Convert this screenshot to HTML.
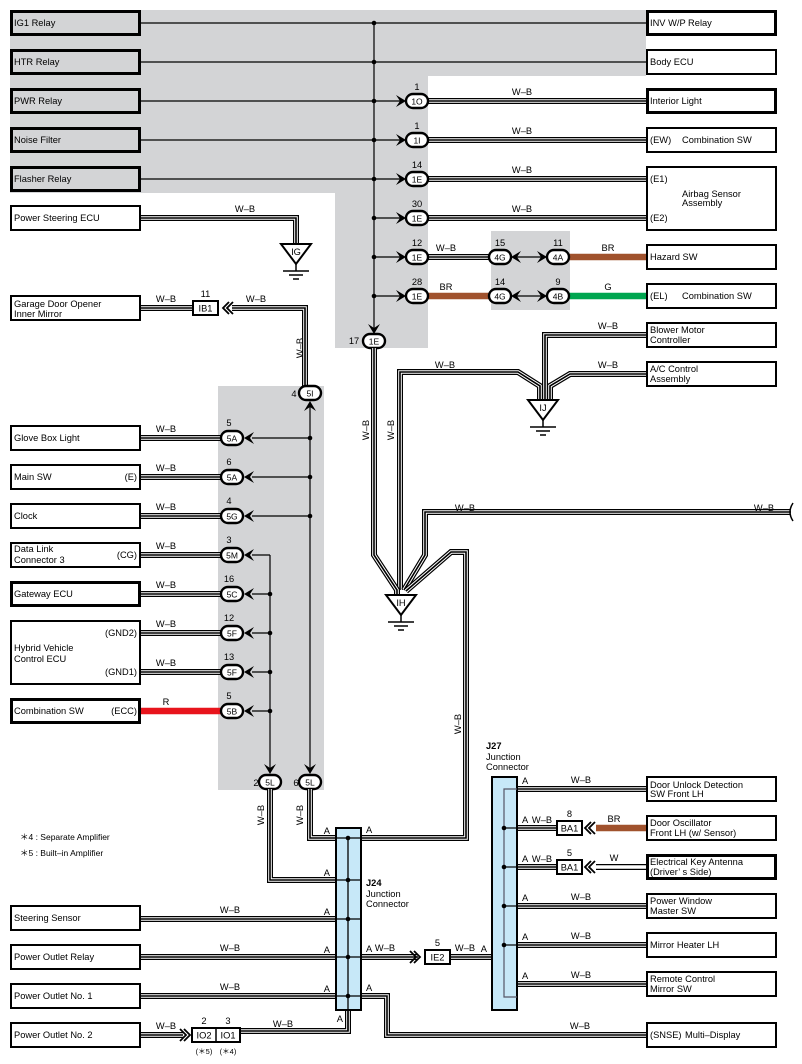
<!DOCTYPE html>
<html><head><meta charset="utf-8"><style>
html,body{margin:0;padding:0;background:#fff}
svg{display:block;font-family:"Liberation Sans",sans-serif}
text{font-size:9.3px;fill:#000}
</style></head><body>
<svg id="s" width="802" height="1064" viewBox="0 0 802 1064" xmlns="http://www.w3.org/2000/svg">
<rect x="10" y="10" width="636" height="66" fill="#d3d4d6"/>
<rect x="10" y="10" width="418" height="183" fill="#d3d4d6"/>
<rect x="335" y="10" width="93" height="338" fill="#d3d4d6"/>
<rect x="491" y="231" width="79" height="79" fill="#d3d4d6"/>
<rect x="218" y="386" width="106" height="404" fill="#d3d4d6"/>
</svg>
<script>
const S=document.getElementById('s'),NS='http://www.w3.org/2000/svg';
function el(t,a,txt){const e=document.createElementNS(NS,t);for(const k in a)e.setAttribute(k,a[k]);if(txt!==undefined)e.textContent=txt;S.appendChild(e);return e;}
function ln(x1,y1,x2,y2,w,c){el('line',{x1,y1,x2,y2,stroke:c||'#000','stroke-width':w||1.2});}
function pl(p,w,c){el('polyline',{points:p.map(q=>q.join(',')).join(' '),fill:'none',stroke:c,'stroke-width':w,'stroke-linejoin':'miter'});}
function wire(p,t){t=t||'wb';
 if(t=='wb'){pl(p,6,'#000');pl(p,3.6,'#fff');pl(p,1.6,'#000');}
 else if(t=='w'){pl(p,6,'#000');pl(p,3.6,'#fff');}
 else pl(p,6.5,t);}
function tx(x,y,s,o){o=o||{};const a={x,y};if(o.a)a['text-anchor']=o.a;if(o.r)a.transform='rotate(-90 '+x+' '+y+')';if(o.b)a['font-weight']='bold';if(o.s)a.style='font-size:'+o.s+'px';el('text',a,s);}
function box(y1,y2,thick,x1,x2,lines){x1=x1||10;x2=x2||141;const w=thick?3:2;
 el('rect',{x:x1+w/2,y:y1+w/2,width:x2-x1-w,height:y2-y1-w,fill:thick&&x1<200&&y1<200?'#d3d4d6':'#fff',stroke:'#000','stroke-width':w});
 (lines||[]).forEach(l=>tx(l[0],l[1],l[2],l[3]));}
function pill(cx,cy,lab,num,nx,ny){el('rect',{x:cx-11,y:cy-7,width:22,height:14,rx:7,fill:'#fff',stroke:'#000','stroke-width':2.4});tx(cx,cy+3.5,lab,{a:'middle',s:8.5});if(num!==undefined)tx(nx!==undefined?nx:cx,ny!==undefined?ny:cy-11,num,{a:'middle'});}
function arR(x,y){el('path',{d:`M${x-10},${y-6}L${x},${y}L${x-10},${y+6}L${x-6},${y}Z`,fill:'#000'});}
function arL(x,y){el('path',{d:`M${x+10},${y-6}L${x},${y}L${x+10},${y+6}L${x+6},${y}Z`,fill:'#000'});}
function arD(x,y){el('path',{d:`M${x-6},${y-10}L${x},${y}L${x+6},${y-10}L${x},${y-6}Z`,fill:'#000'});}
function arU(x,y){el('path',{d:`M${x-6},${y+10}L${x},${y}L${x+6},${y+10}L${x},${y+6}Z`,fill:'#000'});}
function chev(x,y,dir){for(let i=0;i<2;i++){const d=dir*i*4;el('polyline',{points:`${x+d+dir*6},${y-6} ${x+d},${y} ${x+d+dir*6},${y+6}`,fill:'none',stroke:'#000','stroke-width':1.8});}}
function dot(x,y){el('circle',{cx:x,cy:y,r:2.3,fill:'#000'});}
function gnd(x,y,lab){el('path',{d:`M${x-15},${y}L${x+15},${y}L${x},${y+20}Z`,fill:'#fff',stroke:'#000','stroke-width':2});tx(x,y+11,lab,{a:'middle'});ln(x,y+20,x,y+27,1.5);ln(x-13,y+27,x+13,y+27,1.5);ln(x-7,y+31,x+7,y+31,1.5);ln(x-3,y+35,x+3,y+35,1.5);}
function cbox(x1,x2,y,lab,num){el('rect',{x:x1,y:y-7,width:x2-x1,height:14,fill:'#fff',stroke:'#000','stroke-width':2});tx((x1+x2)/2,y+3.5,lab,{a:'middle'});if(num)tx((x1+x2)/2,y-11,num,{a:'middle'});}

// top bus
ln(141,23,646,23);ln(141,62,646,62);
ln(374,23,374,332);
[23,62,101,140,179,218,257,296].forEach(y=>dot(374,y));
[101,140,179].forEach(y=>ln(141,y,400,y));
[218,257,296].forEach(y=>ln(374,y,400,y));
[101,140,179,218,257,296].forEach(y=>arR(406,y));
[101,140,179,218].forEach(y=>{wire([[428,y],[646,y]]);tx(522,y-6,'W–B',{a:'middle'});});
wire([[428,257],[490,257]]);tx(446,251,'W–B',{a:'middle'});
wire([[428,296],[490,296]],'#a0522d');tx(446,290,'BR',{a:'middle'});
[[101,'1O','1'],[140,'1I','1'],[179,'1E','14'],[218,'1E','30'],[257,'1E','12'],[296,'1E','28']].forEach(r=>pill(417,r[0],r[1],r[2]));
[[257,'4G','15','4A','11','#a0522d','BR'],[296,'4G','14','4B','9','#00a650','G']].forEach(r=>{
 wire([[568,r[0]],[646,r[0]]],r[5]);tx(608,r[0]-6,r[6],{a:'middle'});
 ln(512,r[0],546,r[0]);arL(511,r[0]);arR(547,r[0]);pill(500,r[0],r[1],r[2]);pill(558,r[0],r[3],r[4]);});
arD(374,334);pill(374,341,'1E','17',354,344);

// grounds IJ, IH
wire([[646,335],[545,335],[545,400]]);tx(608,329,'W–B',{a:'middle'});
wire([[646,374],[570,374],[550,386],[550,400]]);tx(608,368,'W–B',{a:'middle'});
wire([[400,590],[400,372],[518,372],[540,386],[540,400]]);tx(445,368,'W–B',{a:'middle'});
gnd(543,400,'IJ');
wire([[374,348],[374,555],[397,590],[397,596]]);
tx(369,430,'W–B',{a:'middle',r:1});tx(394,430,'W–B',{a:'middle',r:1});
wire([[791,512],[425,512],[425,555],[404,590]]);tx(465,511,'W–B',{a:'middle'});tx(764,511,'W–B',{a:'middle'});
el('path',{d:'M793,503 Q787,512 793,521',fill:'none',stroke:'#000','stroke-width':1.5});
wire([[361,838],[466,838],[466,552],[451,552],[406,591]]);tx(461,724,'W–B',{a:'middle',r:1});
gnd(401,595,'IH');

// power steering / garage
wire([[141,218],[296,218],[296,245]]);tx(245,212,'W–B',{a:'middle'});gnd(296,244,'IG');
wire([[141,308],[192,308]]);tx(166,302,'W–B',{a:'middle'});cbox(193,218,308,'IB1','11');chev(223,308,1);
wire([[232,308],[305,308],[305,386]]);tx(256,302,'W–B',{a:'middle'});tx(303,348,'W–B',{a:'middle',r:1});
pill(310,393,'5I','4',294,397);arU(310,401);

// left panel rows
ln(310,404,310,772);ln(270,555,270,772);
const rows=[[438,'5A','5',310],[477,'5A','6',310],[516,'5G','4',310],[555,'5M','3',270],[594,'5C','16',270],[633,'5F','12',270],[672,'5F','13',270],[711,'5B','5',270]];
rows.forEach(r=>{const y=r[0];ln(252,y,r[3],y);if(r[3]==310||y>555)dot(r[3],y);
 if(y==711){wire([[141,y],[221,y]],'#e8141c');tx(166,705,'R',{a:'middle'});}
 else{wire([[141,y],[221,y]]);tx(166,y-6,'W–B',{a:'middle'});}
 arL(244,y);pill(232,y,r[1],r[2],229,y-12);});
arD(310,774);arD(270,774);
pill(310,782,'5L','6',296,786);pill(270,782,'5L','2',256,786);
wire([[270,789],[270,880],[336,880]]);wire([[310,789],[310,838],[336,838]]);
tx(264,815,'W–B',{a:'middle',r:1});tx(303,815,'W–B',{a:'middle',r:1});
tx(20,840,'＊4 : Separate Amplifier',{s:8.5});tx(20,856,'＊5 : Built–in Amplifier',{s:8.5});

// J24
[919,957,996].forEach(y=>{wire([[141,y],[336,y]]);tx(230,y-6,'W–B',{a:'middle'});});
wire([[361,957],[418,957]]);tx(385,951,'W–B',{a:'middle'});chev(420,957,-1);
wire([[450,957],[492,957]]);tx(465,951,'W–B',{a:'middle'});cbox(425,450,957,'IE2','5');
wire([[361,996],[387,996],[387,1035],[646,1035]]);tx(580,1029,'W–B',{a:'middle'});
wire([[348,1010],[348,1031],[240,1031]]);tx(283,1027,'W–B',{a:'middle'});
el('rect',{x:336,y:828,width:25,height:182,fill:'#c7e8f8',stroke:'#000','stroke-width':2});
ln(348,838,348,1031,1.3);
[838,880,919,957,996].forEach(y=>{ln(336,y,361,y);dot(348,y);tx(330,y-4,'A',{a:'end'});});
tx(366,833,'A');tx(366,952,'A');tx(366,991,'A');tx(343,1022,'A',{a:'end'});
tx(366,886,'J24',{b:1});tx(366,897,'Junction');tx(366,907,'Connector');
wire([[141,1035],[183,1035]]);tx(166,1029,'W–B',{a:'middle'});chev(190,1035,-1);
el('rect',{x:192,y:1028,width:48,height:14,fill:'#fff',stroke:'#000','stroke-width':2});ln(216,1028,216,1042,1.5);
tx(204,1038.5,'IO2',{a:'middle'});tx(228,1038.5,'IO1',{a:'middle'});tx(204,1024,'2',{a:'middle'});tx(228,1024,'3',{a:'middle'});
tx(204,1054,'(＊5)',{a:'middle',s:7.5});tx(228,1054,'(＊4)',{a:'middle',s:7.5});

// J27
tx(486,749,'J27',{b:1});tx(486,760,'Junction');tx(486,770,'Connector');
[789,906,945,984].forEach(y=>{wire([[517,y],[646,y]]);tx(581,y-6,'W–B',{a:'middle'});tx(522,y-5,'A');});
[[828,'8','#a0522d','BR'],[867,'5','w','W']].forEach(r=>{const y=r[0];wire([[517,y],[557,y]]);tx(522,y-5,'A');tx(542,y-5,'W–B',{a:'middle'});
 wire([[596,y],[646,y]],r[2]);cbox(557,582,y,'BA1',r[1]);chev(585,y,1);tx(614,y-6,r[3],{a:'middle'});});
el('rect',{x:492,y:777,width:25,height:233,fill:'#c7e8f8',stroke:'#000','stroke-width':2});
el('polyline',{points:'517,789 504,789 504,997 517,997',fill:'none',stroke:'#556','stroke-width':1.2});
[828,867,906,945].forEach(y=>{ln(504,y,517,y);dot(504,y);});tx(487,952,'A',{a:'end'});

// boxes left
box(10,36,1,0,0,[[14,26,'IG1 Relay']]);box(49,75,1,0,0,[[14,65,'HTR Relay']]);box(88,114,1,0,0,[[14,104,'PWR Relay']]);
box(127,153,1,0,0,[[14,143,'Noise Filter']]);box(166,192,1,0,0,[[14,182,'Flasher Relay']]);
box(205,231,0,0,0,[[14,221,'Power Steering ECU']]);box(295,321,0,0,0,[[14,307,'Garage Door Opener'],[14,317,'Inner Mirror']]);
box(425,451,0,0,0,[[14,441,'Glove Box Light']]);box(464,490,0,0,0,[[14,480,'Main SW'],[137,480,'(E)',{a:'end'}]]);
box(503,529,0,0,0,[[14,519,'Clock']]);box(542,568,0,0,0,[[14,552,'Data Link'],[14,563,'Connector 3'],[137,558,'(CG)',{a:'end'}]]);
box(581,607,1,0,0,[[14,597,'Gateway ECU']]);
box(620,685,0,0,0,[[137,636,'(GND2)',{a:'end'}],[14,651,'Hybrid Vehicle'],[14,662,'Control ECU'],[137,675,'(GND1)',{a:'end'}]]);
box(698,724,1,0,0,[[14,714,'Combination SW'],[137,714,'(ECC)',{a:'end'}]]);
box(905,931,0,0,0,[[14,921,'Steering Sensor']]);box(944,970,0,0,0,[[14,960,'Power Outlet Relay']]);
box(983,1009,0,0,0,[[14,999,'Power Outlet No. 1']]);box(1022,1048,0,0,0,[[14,1038,'Power Outlet No. 2']]);
// boxes right
const R=(y1,y2,t,l)=>box(y1,y2,t,646,777,l);
R(10,36,1,[[650,26,'INV W/P Relay']]);R(49,75,0,[[650,65,'Body ECU']]);R(88,114,1,[[650,104,'Interior Light']]);
R(127,153,0,[[650,143,'(EW)'],[682,143,'Combination SW']]);
R(166,231,0,[[650,182,'(E1)'],[682,197,'Airbag Sensor'],[682,206,'Assembly'],[650,221,'(E2)']]);
R(244,270,0,[[650,260,'Hazard SW']]);R(283,309,0,[[650,299,'(EL)'],[682,299,'Combination SW']]);
R(322,348,0,[[650,333,'Blower Motor'],[650,343,'Controller']]);R(361,387,0,[[650,372,'A/C Control'],[650,382,'Assembly']]);
R(776,802,0,[[650,788,'Door Unlock Detection'],[650,797,'SW Front LH']]);R(815,841,0,[[650,826,'Door Oscillator'],[650,836,'Front LH (w/ Sensor)']]);
R(854,880,1,[[650,865,'Electrical Key Antenna'],[650,875,'(Driver’ s Side)']]);R(893,919,0,[[650,904,'Power Window'],[650,914,'Master SW']]);
R(932,958,0,[[650,948,'Mirror Heater LH']]);R(971,997,0,[[650,982,'Remote Control'],[650,992,'Mirror SW']]);
R(1022,1048,0,[[650,1038,'(SNSE)'],[685,1038,'Multi–Display']]);
</script>
</body></html>
